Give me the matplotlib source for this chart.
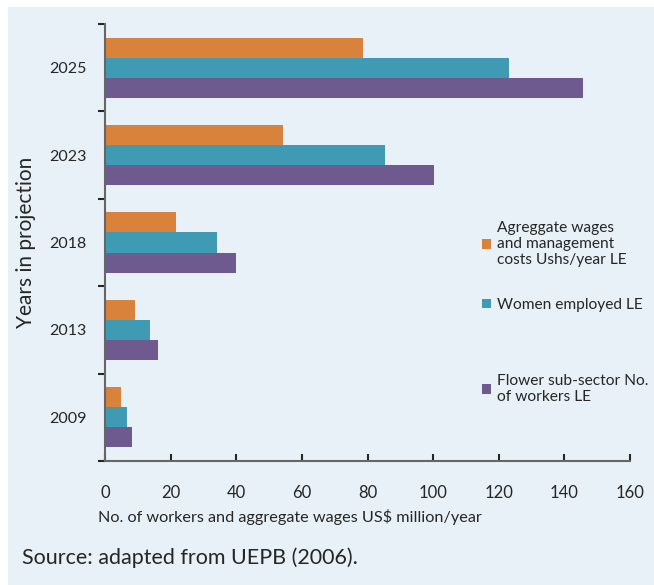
import numpy as np
import matplotlib.pyplot as plt
from matplotlib.patches import Rectangle

years = ['2009', '2013', '2018', '2023', '2025']
wages = [4.9, 9.1, 21.6, 54.3, 78.6]
women = [6.7, 13.7, 34.1, 85.4, 123.0]
workers = [8.2, 16.2, 39.9, 100.3, 145.7]

labels = ['Agreggate wages\nand management\ncosts Ushs/year LE',
          'Women employed LE',
          'Flower sub-sector No.\nof workers LE']
colors = ['#D9823B', '#3F9BB3', '#6E5A8F']

plt.rcParams['font.family'] = ['Lato', 'DejaVu Sans']
bg = '#E8F1F7'
txt = '#262626'

fig = plt.figure(figsize=(6.54, 5.85), dpi=100, facecolor='white')
fig.patches.append(Rectangle((8/654, 0), 1, 1 - 7/585, transform=fig.transFigure,
                             facecolor=bg, edgecolor='none', zorder=-10))
ax = fig.add_axes([105/654, 1 - 461/585, 525/654, 437/585])
ax.set_facecolor(bg)

y = np.arange(len(years))
h = 0.23
b1 = ax.barh(y + h, wages, height=h, color=colors[0], label=labels[0])
b2 = ax.barh(y, women, height=h, color=colors[1], label=labels[1])
b3 = ax.barh(y - h, workers, height=h, color=colors[2], label=labels[2])

ax.set_xlim(0, 160)
ax.set_ylim(-0.5, len(years) - 0.5)
ax.set_xticks(np.arange(0, 161, 20))
ax.set_yticks(y)
ax.set_yticklabels(years)
ax.set_yticks(np.arange(-0.5, len(years), 1), minor=True)
ax.tick_params(axis='y', which='major', length=0, pad=13, labelsize=11.5, colors=txt)
ax.tick_params(axis='y', which='minor', length=5, width=1.5, direction='out', color=txt)
ax.tick_params(axis='x', length=5, width=1.5, direction='in', pad=17, labelsize=12,
               color=txt, labelcolor=txt)

for s in ['top', 'right']:
    ax.spines[s].set_visible(False)
for s in ['left', 'bottom']:
    ax.spines[s].set_color('#666666')
    ax.spines[s].set_linewidth(1.5)

ax.set_xlabel('No. of workers and aggregate wages US$ million/year', fontsize=11.7,
              color=txt, labelpad=6, x=0.352)
ax.set_ylabel('Years in projection', fontsize=15, color=txt, labelpad=10)

# one legend per entry so the uneven spacing of the original can be kept
leg_y = [244, 305, 389]
for handle, ly in zip([b1, b2, b3], leg_y):
    lg = fig.legend(handles=[handle], loc='center left',
                    bbox_to_anchor=(482/654, 1 - ly/585), frameon=False, fontsize=11.2,
                    handlelength=0.6, handleheight=0.6, handletextpad=0.35,
                    labelcolor=txt, borderpad=0, borderaxespad=0)

fig.text(22/654, 1 - 558/585, 'Source: adapted from UEPB (2006).', fontsize=15.5,
         color=txt, va='center')

fig.savefig('out.png', dpi=100, facecolor=fig.get_facecolor())
